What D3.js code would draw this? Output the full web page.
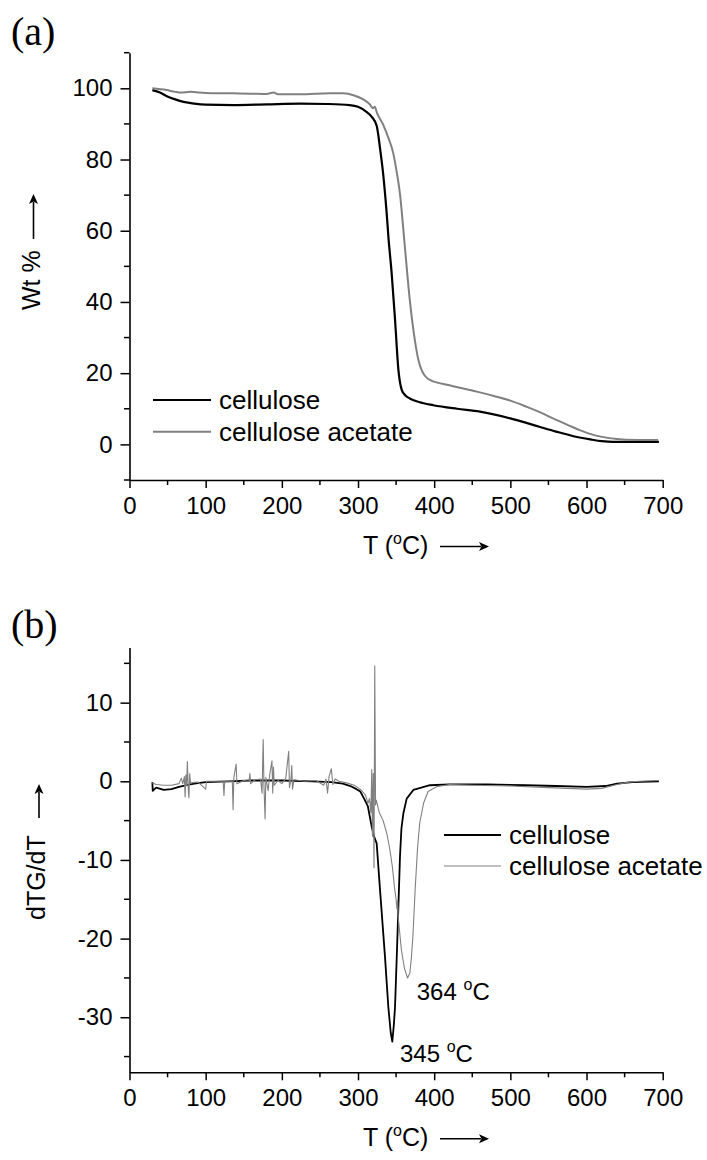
<!DOCTYPE html>
<html><head><meta charset="utf-8">
<script src="https://cdn.jsdelivr.net/npm/d3@7"></script>
<style>
html,body{margin:0;padding:0;background:#fff;}
svg{display:block;}
text{fill:#000;}
</style></head>
<body><div id="chart"></div>
<script>
// ---------- data ----------
const seriesNames = ["cellulose", "cellulose acetate"];
const seriesColors = ["#000000", "#808080"];

const xTicks = [0, 100, 200, 300, 400, 500, 600, 700];
const xMinorTicks = [50, 150, 250, 350, 450, 550, 650];
const tgTicks = [0, 20, 40, 60, 80, 100];
const tgMinorTicks = [-10, 10, 30, 50, 70, 90, 110];
const dtgTicks = [-30, -20, -10, 0, 10];
const dtgMinorTicks = [-35, -25, -15, -5, 5, 15];

// TG: [T (°C), Wt %]
const tgCellulose = [[30,99.5],[40,98.8],[49,97.8],[60,96.9],[71,96.2],[85,95.7],[100,95.4],[136,95.3],[180,95.5],[224,95.7],[260,95.6],[289,95.3],[300,94.8],[311,93.4],[318,92],[324.5,89.5],[329,83],[333,76],[337.6,65],[340,58],[344.2,48],[348.6,35],[353,21],[357.4,15.3],[362,13.8],[368,12.9],[380,11.9],[399,11.0],[430,10.0],[460,9.2],[500,7.3],[520,6.1],[539,4.9],[560,3.6],[583,2.3],[605,1.4],[620,0.9],[635,0.7],[695,0.7]];
const tgAcetate = [[30,100],[49,99.5],[60,99.0],[68,98.8],[80,99.0],[100,98.7],[136,98.6],[160,98.5],[180,98.4],[189,98.8],[195,98.3],[224,98.3],[263,98.6],[281,98.6],[295,98.0],[307,96.9],[315,95.6],[320,94.4],[322,94.8],[325,93],[333,89.8],[340,86],[346,82],[350,77.5],[355,70.5],[361.5,55.5],[368,40.5],[374.6,29.3],[379,24],[383.4,20.9],[388,19.2],[394.3,18.1],[420,16.6],[438,15.7],[460,14.6],[481.8,13.4],[500,12.3],[521,10.6],[540,8.9],[556,7.3],[575,5.5],[591,4.0],[610,2.6],[626,1.9],[640,1.5],[652,1.3],[694,1.2]];

// DTG: [T (°C), dTG/dT]
const dtgCellulose = [[30,-0.1],[30.5,-1.2],[35,-0.8],[45,-1.1],[55,-1.0],[65,-0.7],[75,-0.5],[85,-0.3],[100,-0.1],[130,0],[160,0.1],[200,0.1],[240,0],[265,-0.1],[280,-0.3],[290,-0.6],[298,-1.0],[303,-1.3],[308,-2.2],[313,-3.2],[318,-5.8],[321,-7],[324.5,-7.9],[328.9,-13.8],[335.4,-22.3],[339.8,-28.7],[343,-32],[345,-33.1],[347,-31],[348.6,-28.7],[351.6,-20.2],[355.1,-9.6],[357,-6],[359.5,-4.1],[363.9,-2.2],[372.6,-1.1],[394.5,-0.5],[420,-0.4],[470,-0.4],[520,-0.5],[560,-0.6],[600,-0.7],[625,-0.6],[640,-0.3],[660,-0.1],[695,0]];
const dtgAcetate = [[30,-0.2],[35,-0.4],[45,-0.5],[55,-0.5],[65,-0.3],[68,0.4],[70,-0.3],[72,0.6],[73,-2.0],[74,0.8],[75,-0.5],[76,2.5],[77,-0.8],[78,-2.1],[79,1.0],[80,-0.2],[90,-0.1],[100,-1.0],[101,0.0],[115,0],[123,0],[124,-1.8],[125,0],[135,0],[136,-3.6],[137,0.5],[140,2.2],[141,-0.3],[150,0.1],[157,0],[158,1.0],[159,-0.3],[165,0.2],[172,0.3],[174,-1.5],[175.5,5.3],[176.5,-0.5],[178,-4.8],[179,0.5],[182,-1.2],[184,0.8],[187,2.6],[188,-1.5],[189,1.8],[190,-0.5],[195,0.1],[200,-0.3],[205,0.3],[209,3.8],[210,-0.8],[212,0.3],[213,2.0],[214,-1.0],[216,0.2],[230,0],[245,0.1],[255,-0.5],[258,0.3],[260,-1.5],[262,0.6],[265,1.6],[267,-0.4],[270,0.3],[275,0],[285,-0.2],[295,-0.5],[300,-0.8],[305,-1.2],[310,-1.8],[313,-2.8],[315,-2.2],[317,-4],[318,1.5],[319,-7],[320,1],[321,-11],[322,14.7],[323,-3],[324,-2.4],[328,-4],[333,-5],[338,-6.7],[342,-8.8],[345,-10.8],[348,-13.6],[350,-15],[351,-16.2],[352,-15.2],[353,-17.5],[357,-21.5],[361,-23.8],[365,-25],[368,-24.4],[370,-22.5],[372,-19.8],[375,-13.8],[378,-8.7],[381,-5.3],[386,-2.8],[392,-1.3],[403,-0.7],[420,-0.4],[450,-0.5],[500,-0.6],[550,-0.8],[600,-1.0],[620,-0.9],[640,-0.4],[655,-0.1],[670,0],[695,0.1]];

const peakLabels = [{T:345, v:-33.1, text:"345"}, {T:364, v:-25, text:"364"}];

// ---------- drawing ----------
const SANS = '"Liberation Sans",Arial,sans-serif';
const SERIF = '"Liberation Serif","Times New Roman",serif';
const W = 707, H = 1160;
const svg = d3.select("#chart").append("svg").attr("width", W).attr("height", H)
  .style("font-family", SANS);

const x0 = 129.5, x1 = 662.7;
const x = d3.scaleLinear().domain([0, 700]).range([x0, x1]);
const yTop = d3.scaleLinear().domain([-10, 110]).range([480, 52.7]);
const yBot = d3.scaleLinear().domain([-37, 17]).range([1072.3, 647.6]);

function arrowPath(g, xa, ya, xb, yb) {
  const dx = xb - xa, dy = yb - ya, L = Math.hypot(dx, dy);
  const ux = dx / L, uy = dy / L, hl = 10, hw = 4.5;
  const bx = xb - ux * hl, by = yb - uy * hl;
  g.append("line").attr("x1", xa).attr("y1", ya).attr("x2", bx + ux*2).attr("y2", by + uy*2)
    .attr("stroke", "#000").attr("stroke-width", 1.6);
  g.append("path")
    .attr("d", `M${xb},${yb}L${bx - uy*hw},${by + ux*hw}L${bx + ux*2.5},${by + uy*2.5}L${bx + uy*hw},${by - ux*hw}Z`)
    .attr("fill", "#000");
}

function drawPanel(opt) {
  const g = svg.append("g");
  const y = opt.y;
  const yb = y.range()[0];
  // x axis
  const ax = g.append("g").attr("transform", `translate(0,${yb})`)
    .call(d3.axisBottom(x).tickValues(xTicks).tickSize(8).tickSizeOuter(0).tickPadding(8.5).tickFormat(d => String(d)));
  g.append("g").selectAll("line").data(xMinorTicks).join("line")
    .attr("x1", d => x(d)).attr("x2", d => x(d))
    .attr("y1", yb).attr("y2", yb + 5)
    .attr("stroke", "#000").attr("stroke-width", 1.5);
  // y axis
  const ay = g.append("g").attr("transform", `translate(${x0},0)`)
    .call(d3.axisLeft(y).tickValues(opt.ticks).tickSize(9).tickSizeOuter(0).tickPadding(8).tickFormat(d => String(d)));
  g.append("g").selectAll("line").data(opt.minor).join("line")
    .attr("x1", x0 - 5.5).attr("x2", x0)
    .attr("y1", d => y(d)).attr("y2", d => y(d))
    .attr("stroke", "#000").attr("stroke-width", 1.5);
  [ax, ay].forEach(a => {
    a.selectAll("path.domain").attr("stroke-width", 1.6);
    a.selectAll(".tick line").attr("stroke-width", 1.5);
    a.selectAll(".tick text").attr("font-size", 24).attr("font-family", SANS).attr("fill", "#000");
  });

  // data lines
  const line = d3.line().x(d => x(d[0])).y(d => y(d[1])).curve(opt.curve);
  opt.series.forEach((s, i) => {
    g.append("path").datum(s).attr("d", line)
      .attr("fill", "none").attr("stroke", seriesColors[i])
      .attr("stroke-width", opt.widths[i]).attr("stroke-linejoin", "round");
  });

  // legend
  seriesNames.forEach((n, i) => {
    const ly = opt.legY + i * opt.legGap;
    g.append("line").attr("x1", opt.legX).attr("x2", opt.legX + opt.legLen)
      .attr("y1", ly).attr("y2", ly).attr("stroke", seriesColors[i]).attr("stroke-width", opt.widths[i]);
    g.append("text").attr("x", opt.legX + opt.legLen + 8).attr("y", ly + 9)
      .attr("font-size", 26).text(n);
  });

  // x title
  const xt = g.append("text").attr("x", 363).attr("y", yb + 73.5).attr("font-size", 25);
  xt.append("tspan").text("T (");
  xt.append("tspan").attr("font-size", 16).attr("dy", -10).text("o");
  xt.append("tspan").attr("dy", 10).text("C)");
  arrowPath(g, 440, yb + 66.5, 489, yb + 66.5);

  // y title
  g.append("text").attr("transform", `translate(${opt.ytX},${opt.ytY}) rotate(-90)`)
    .attr("font-size", 25).text(opt.ytitle);
  arrowPath(g, opt.ytX - 6, opt.arrY0, opt.ytX - 6, opt.arrY1);

  // panel label
  g.append("text").attr("x", 11).attr("y", opt.labY)
    .style("font-family", SERIF)
    .attr("font-size", 40).text(opt.label);
  return g;
}

drawPanel({
  y: yTop, ticks: tgTicks, minor: tgMinorTicks,
  series: [tgCellulose, tgAcetate], widths: [2.2, 2.0], curve: d3.curveMonotoneX,
  legX: 153, legY: 400, legGap: 31.7, legLen: 58,
  ytitle: "Wt %", ytX: 39.5, ytY: 310, arrY0: 239, arrY1: 194,
  label: "(a)", labY: 45
});

const gb = drawPanel({
  y: yBot, ticks: dtgTicks, minor: dtgMinorTicks,
  series: [dtgCellulose, dtgAcetate], widths: [1.8, 1.1], curve: d3.curveLinear,
  legX: 444, legY: 835, legGap: 31, legLen: 57,
  ytitle: "dTG/dT", ytX: 45, ytY: 920, arrY0: 818, arrY1: 784,
  label: "(b)", labY: 638
});

// peak annotations
const annOffsets = [[7.7, 20.5], [10, 22]];
peakLabels.forEach((p, i) => {
  const t = gb.append("text").attr("x", x(p.T) + annOffsets[i][0]).attr("y", yBot(p.v) + annOffsets[i][1]).attr("font-size", 24);
  t.append("tspan").text(p.text + " ");
  t.append("tspan").attr("font-size", 16).attr("dy", -10).text("o");
  t.append("tspan").attr("dy", 10).text("C");
});
</script>
</body></html>
